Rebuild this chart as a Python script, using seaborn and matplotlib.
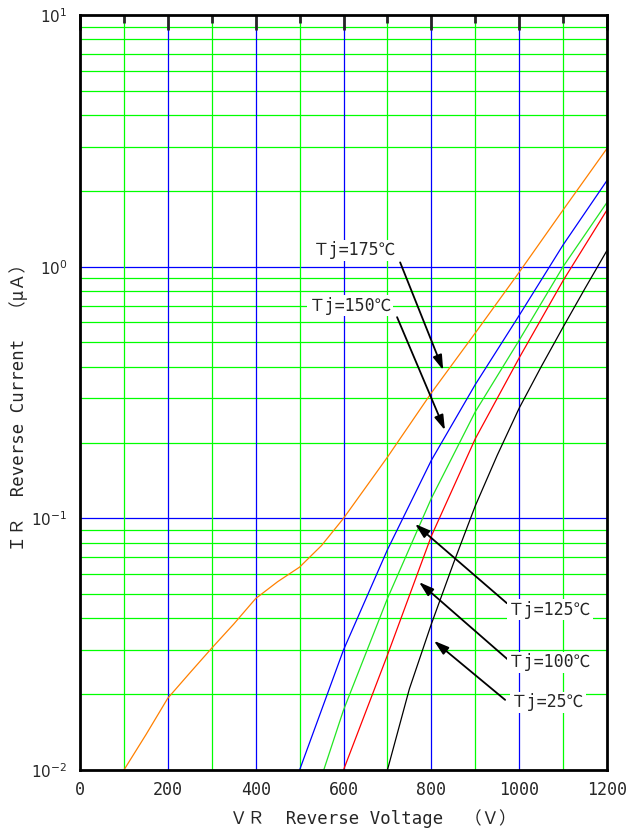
import numpy as np
import pandas as pd
import matplotlib
matplotlib.use('Agg')
import matplotlib.pyplot as plt
import seaborn as sns
from matplotlib.ticker import FixedLocator, NullFormatter

# Reverse current vs reverse voltage
vr_175 = [100, 150, 200, 250, 300, 350, 400, 450, 500, 550, 600, 700, 800, 900, 1000, 1100, 1200]
ir_175 = [0.01, 0.0138, 0.0193, 0.0243, 0.0305, 0.038, 0.048, 0.056, 0.064, 0.078, 0.1, 0.175, 0.315, 0.545, 0.95, 1.68, 2.95]

vr_150 = [500, 600, 700, 800, 900, 1000, 1100, 1200]
ir_150 = [0.01, 0.030, 0.075, 0.17, 0.34, 0.64, 1.22, 2.2]

vr_125 = [555, 600, 700, 800, 900, 1000, 1100, 1200]
ir_125 = [0.01, 0.0173, 0.048, 0.12, 0.265, 0.51, 1.0, 1.8]

vr_100 = [600, 700, 800, 900, 1000, 1100, 1200]
ir_100 = [0.01, 0.0286, 0.085, 0.207, 0.434, 0.88, 1.68]

vr_25 = [700, 750, 800, 850, 900, 950, 1000, 1050, 1100, 1150, 1200]
ir_25 = [0.01, 0.021, 0.038, 0.066, 0.112, 0.178, 0.274, 0.40, 0.575, 0.82, 1.16]

x_ticks = [0, 200, 400, 600, 800, 1000, 1200]
y_ticks = [0.01, 0.1, 1, 10]
y_tick_labels = [r'$10^{-2}$', r'$10^{-1}$', r'$10^{0}$', r'$10^{1}$']

frames = []
for name, v, i in [('175', vr_175, ir_175), ('150', vr_150, ir_150), ('125', vr_125, ir_125),
                   ('100', vr_100, ir_100), ('25', vr_25, ir_25)]:
    frames.append(pd.DataFrame({'VR': v, 'IR': i, 'Tj': name}))
df = pd.concat(frames, ignore_index=True)

palette = {'175': '#ff8000', '150': '#0000ff', '125': '#22e622', '100': '#ff0000', '25': '#000000'}

sns.set_style('white')
plt.rcParams['font.family'] = ['DejaVu Sans Mono', 'Noto Sans CJK JP']
plt.rcParams['mathtext.fontset'] = 'dejavusans'

fig = plt.figure(figsize=(6.35, 8.34), dpi=100)
ax = fig.add_axes([80 / 635, 64 / 834, 527 / 635, 755 / 834])
ax.set_axisbelow(False)

ax.set_yscale('log')
ax.set_xlim(0, 1200)
ax.set_ylim(0.01, 10)

# grid: green minor, blue major
minor_y = [m * 10.0 ** e for e in (-2, -1, 0) for m in range(2, 10)]
for y in minor_y:
    ax.axhline(y, color='#00ff00', lw=0.9, zorder=1)
for y in [0.1, 1]:
    ax.axhline(y, color='#0000ff', lw=0.9, zorder=1)
for x in range(100, 1200, 200):
    ax.axvline(x, color='#00ff00', lw=0.9, zorder=1)
for x in range(200, 1200, 200):
    ax.axvline(x, color='#0000ff', lw=0.9, zorder=1)

sns.lineplot(data=df, x='VR', y='IR', hue='Tj', palette=palette, legend=False,
             sort=False, estimator=None, lw=0.9, ax=ax, zorder=3)

ax.xaxis.set_major_locator(FixedLocator(x_ticks))
ax.xaxis.set_minor_locator(FixedLocator(list(range(100, 1200, 200))))
ax.yaxis.set_major_locator(FixedLocator(y_ticks))
ax.yaxis.set_minor_locator(FixedLocator(minor_y))
ax.set_yticklabels(y_tick_labels)
ax.yaxis.set_minor_formatter(NullFormatter())
ax.tick_params(axis='x', which='major', direction='in', length=11, width=2, top=True,
               labelsize=12, pad=8)
ax.tick_params(axis='x', which='minor', direction='in', length=6, width=2, top=True)
ax.tick_params(axis='y', which='major', direction='in', length=11, width=2, labelsize=11, pad=9)
ax.tick_params(axis='y', which='minor', direction='in', length=6, width=2)
for s in ax.spines.values():
    s.set_linewidth(2)
    s.set_color('black')
    s.set_zorder(5)

ax.set_xlabel('ＶＲ  Reverse Voltage  （Ｖ）', fontsize=12.5)
ax.xaxis.set_label_coords(0.556, -0.052)
ax.set_ylabel('ＩＲ  Reverse Current  （μＡ）', fontsize=12.5)
ax.yaxis.set_label_coords(-0.098, 0.485)

bbox = dict(boxstyle='square,pad=0.1', fc='white', ec='none')
arrow = dict(arrowstyle='-|>,head_length=0.9,head_width=0.28', color='black', lw=1.3,
             shrinkA=0, shrinkB=0)
# text, arrow head, arrow tail, text position, alignment
notes = [
    ('Ｔj=175℃', (827, 0.388), (729, 1.04), (626, 1.16), 'center'),
    ('Ｔj=150℃', (831, 0.224), (722, 0.63), (615, 0.70), 'center'),
    ('Ｔj=125℃', (763, 0.095), (972, 0.046), (975, 0.0433), 'left'),
    ('Ｔj=100℃', (772, 0.0558), (975, 0.0274), (975, 0.0268), 'left'),
    ('Ｔj=25℃', (806, 0.0326), (968, 0.019), (982, 0.0186), 'left'),
]
for text, head, tail, pos, ha in notes:
    ax.annotate('', xy=head, xytext=tail, arrowprops=arrow, zorder=6)
    ax.text(pos[0], pos[1], text, ha=ha, va='center', fontsize=12, bbox=bbox, zorder=7)

fig.savefig('out.png', dpi=100)
